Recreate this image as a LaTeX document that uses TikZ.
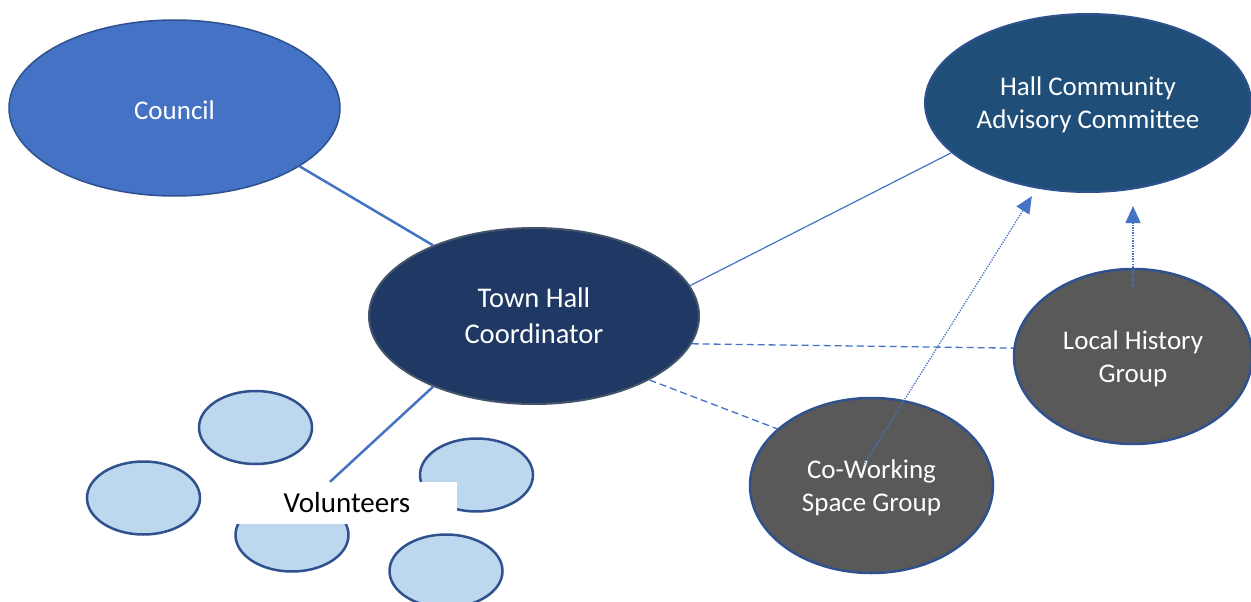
\documentclass[tikz,border=0pt]{standalone}
\usepackage{fontspec}
\setmainfont{Carlito}
\usetikzlibrary{shapes.geometric,arrows.meta}

\definecolor{councilblue}{HTML}{4472C4}
\definecolor{edgeblue}{HTML}{2F528F}
\definecolor{hallblue}{HTML}{1F4E79}
\definecolor{navy}{HTML}{203864}
\definecolor{slate}{HTML}{44546A}
\definecolor{groupgrey}{HTML}{595959}
\definecolor{paleblue}{HTML}{BDD7EE}
\definecolor{linkblue}{HTML}{4472C4}

\begin{document}
\begin{tikzpicture}[x=1pt, y=-1pt,
  body/.style={ellipse, inner sep=0pt, align=center, text=white, font=\fontsize{27}{33}\selectfont},
  group/.style={body, fill=groupgrey, draw=edgeblue, line width=2.5pt, minimum height=175pt},
  volunteer/.style={ellipse, draw=edgeblue, line width=2.5pt, fill=paleblue, minimum width=113pt, minimum height=73pt},
  link/.style={draw=linkblue, line width=2.5pt},
  thinlink/.style={draw=linkblue, line width=1.2pt},
  dashlink/.style={draw=linkblue, line width=1.3pt, dash pattern=on 7pt off 4pt},
  flow/.style={draw=linkblue, line width=1.3pt, dash pattern=on 1.3pt off 1.3pt, -{Triangle[length=17pt,width=15pt]}}]
\useasboundingbox (0,0) rectangle (1251,602);

% main bodies
\node[body, fill=councilblue, draw=edgeblue, line width=1.5pt, minimum width=331pt, minimum height=176pt, text height=23pt] (council) at (174.5,108) {Council};
\node[body, fill=hallblue, draw=edgeblue, line width=2pt, minimum width=326pt, minimum height=178pt, text depth=-1pt] (hall) at (1088,103) {Hall Community\\Advisory Committee};
\node[body, fill=navy, draw=slate, line width=2pt, minimum width=330pt, minimum height=176pt, font=\fontsize{28.5}{36}\selectfont, text depth=-4pt] (coord) at (534,316) {Town Hall\\Coordinator};
\node[group, minimum width=238pt, text depth=-2pt] (history) at (1133,356.5) {Local History\\Group};
\node[group, minimum width=243pt, text depth=-1pt] (cowork) at (871.5,485.5) {Co-Working\\Space Group};

% volunteers
\node[volunteer] (vol1) at (255.5,427.5) {};
\node[volunteer] (vol2) at (143.5,498) {};
\node[volunteer] (vol3) at (476.5,475) {};
\node[volunteer] (vol4) at (292,535) {};
\node[volunteer] (vol5) at (446,571) {};
\node[fill=white, inner sep=0pt, minimum width=220pt, minimum height=42pt, font=\fontsize{29}{35}\selectfont] (volunteers) at (347,503) {Volunteers};

% links
\draw[link] (council.-25.5) -- (coord.145.9);
\draw[thinlink] (coord.11.4) -- (hall.-160.2);
\draw[link] (coord.-145.9) -- ([xshift=-17pt]volunteers.north);
\draw[dashlink] (coord.-10.3) -- (history.176.6);
\draw[dashlink] (coord.-29.3) -- (cowork.149.9);
\draw[flow, shorten <=-77pt, shorten >=9pt] (cowork.69.1) -- (hall.239.2);
\draw[flow, shorten <=-18pt, shorten >=13pt] (history.north) -- (history.north |- hall.south);

\end{tikzpicture}
\end{document}
